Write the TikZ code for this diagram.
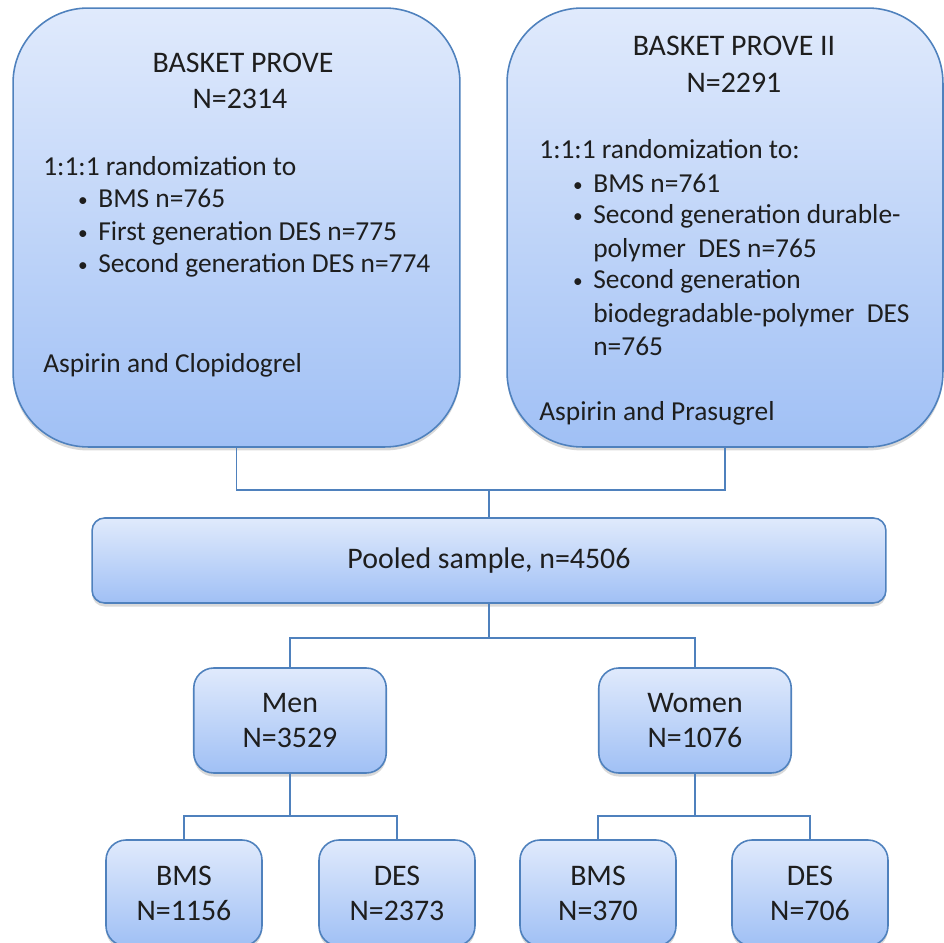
\documentclass[tikz,border=0pt]{standalone}
\usepackage{fontspec}
\setmainfont{Carlito}
\usetikzlibrary{shadows}

\definecolor{boxline}{RGB}{79,129,189}
\definecolor{boxtop}{RGB}{224,234,252}
\definecolor{boxbottom}{RGB}{160,192,245}
\definecolor{inktext}{RGB}{30,30,30}

\tikzset{
  box/.style={draw=boxline, line width=0.9pt, top color=boxtop, bottom color=boxbottom,
    drop shadow={shadow xshift=0pt, shadow yshift=-2pt, opacity=0.3},
    inner sep=0pt, align=center, text=inktext, font=\fontsize{17}{19.9}\selectfont},
  trialbox/.style={rounded corners=1.5cm, minimum height=8.78cm},
  poolbox/.style={rounded corners=0.25cm, minimum width=15.88cm, minimum height=1.7cm},
  sexbox/.style={rounded corners=0.4cm, minimum width=3.85cm, minimum height=2.1cm},
  armbox/.style={rounded corners=0.4cm, minimum width=3.12cm, minimum height=2.12cm},
  boxtext/.style={inner sep=0pt, text=inktext, font=\fontsize{15.6}{18}\selectfont},
  titletext/.style={boxtext, anchor=base, font=\fontsize{17}{19}\selectfont},
  dottext/.style={boxtext, anchor=base, font=\fontsize{11}{12}\selectfont},
  link/.style={draw=boxline, line width=0.9pt}
}

\begin{document}
\begin{tikzpicture}[x=0.02cm,y=-0.02cm]
  \useasboundingbox (0,0) rectangle (944,943);
  \clip (0,0) rectangle (944,943);

  \begin{scope}[every node/.style={box}]
    \node[trialbox, minimum width=8.94cm] (prove1) at (236.5,227.5) {};
    \node[trialbox, minimum width=8.72cm] (prove2) at (725,227.5) {};
    \node[poolbox] (pooled) at (489,560.5) {Pooled sample, n=4506};
    \node[sexbox] (men) at (290,720.5) {Men\\N=3529};
    \node[sexbox] (women) at (695,720.5) {Women\\N=1076};
    \node[armbox] (menbms) at (184,893) {BMS\\N=1156};
    \node[armbox] (mendes) at (397,893) {DES\\N=2373};
    \node[armbox] (womenbms) at (598,893) {BMS\\N=370};
    \node[armbox] (womendes) at (810,893) {DES\\N=706};
  \end{scope}

  % BASKET PROVE
  \begin{scope}[every node/.style={boxtext, anchor=base west}]
    \node[titletext] (title1) at (243,72) {BASKET PROVE};
    \node[titletext] (size1) at (240,108) {N=2314};
    \node (rand1) at (43,175) {1:1:1 randomization to};
    \node[dottext] (dot1a) at (83,206) {\textbullet};
    \node (arm1a) at (98,207) {BMS n=765};
    \node[dottext] (dot1b) at (83,239) {\textbullet};
    \node (arm1b) at (98,240) {First generation DES n=775};
    \node[dottext] (dot1c) at (83,271) {\textbullet};
    \node (arm1c) at (98,272) {Second generation DES n=774};
    \node (drug1) at (43,372) {Aspirin and Clopidogrel};
  \end{scope}

  % BASKET PROVE II
  \begin{scope}[every node/.style={boxtext, anchor=base west}]
    \node[titletext] (title2) at (734,55) {BASKET PROVE II};
    \node[titletext] (size2) at (734,92) {N=2291};
    \node (rand2) at (539,158) {1:1:1 randomization to:};
    \node[dottext] (dot2a) at (578,191) {\textbullet};
    \node (arm2a) at (593,192) {BMS n=761};
    \node[dottext] (dot2b) at (578,222) {\textbullet};
    \node (arm2b) at (593,223) {Second generation durable-};
    \node (arm2bb) at (593,257) {polymer\ \ DES n=765};
    \node[dottext] (dot2c) at (578,287) {\textbullet};
    \node (arm2c) at (593,288) {Second generation};
    \node (arm2cb) at (593,322) {biodegradable-polymer\ \ DES};
    \node (arm2cc) at (593,355) {n=765};
    \node (drug2) at (539,420) {Aspirin and Prasugrel};
  \end{scope}

  \coordinate (topjoin) at (489,490);
  \coordinate (sexjoin) at (489,638);
  \coordinate (menjoin) at (290,816);
  \coordinate (womenjoin) at (695,816);

  \begin{scope}[every path/.style={link}]
    \path (prove1.south) |- (topjoin) -| (prove2.south);
    \path (topjoin) -- (pooled.north);
    \path (pooled.south) -- (sexjoin);
    \path (men.north) |- (sexjoin) -| (women.north);
    \path (men.south) -- (menjoin);
    \path (menbms.north) |- (menjoin) -| (mendes.north);
    \path (women.south) -- (womenjoin);
    \path (womenbms.north) |- (womenjoin) -| (womendes.north);
  \end{scope}

\end{tikzpicture}
\end{document}
